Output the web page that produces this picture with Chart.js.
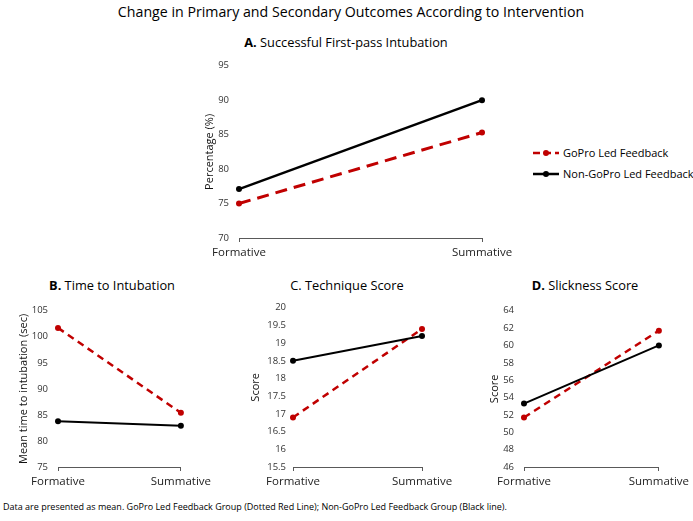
<!DOCTYPE html>
<html>
<head>
<meta charset="utf-8">
<script src="https://cdn.jsdelivr.net/npm/chart.js@4/dist/chart.umd.min.js"></script>
<style>
  html, body { margin: 0; padding: 0; background: #ffffff; }
  body { width: 693px; height: 521px; position: relative; overflow: hidden; font-family: "Open Sans", "Noto Sans", sans-serif; color: #000; }
  .abs { position: absolute; }
  canvas { position: absolute; }
  .title { position: absolute; white-space: nowrap; transform: translateX(-50%); }
  #mainTitle { left: 351px; top: 2px; font-size: 14.2px; }
  .ptitle { font-size: 12.8px; }
  #legend { left: 533px; top: 142px; font-size: 11px; }
  .lrow { height: 21px; display: flex; align-items: center; white-space: nowrap; }
  .lrow svg { margin-right: 4px; }
  #footer { left: 3px; top: 500px; font-size: 9px; white-space: nowrap; }
</style>
</head>
<body>
<div id="mainTitle" class="title">Change in Primary and Secondary Outcomes According to Intervention</div>
<div class="title ptitle" style="left:346px; top:33px;"><b>A.</b> Successful First-pass Intubation</div>
<div class="title ptitle" style="left:112px; top:276px;"><b>B.</b> Time to Intubation</div>
<div class="title ptitle" style="left:347px; top:276px;">C. Technique Score</div>
<div class="title ptitle" style="left:585px; top:276px;"><b>D.</b> Slickness Score</div>

<canvas id="cA" width="340" height="220" style="left:180px; top:50px;"></canvas>
<canvas id="cB" width="215" height="200" style="left:0px; top:295px;"></canvas>
<canvas id="cC" width="225" height="200" style="left:232px; top:295px;"></canvas>
<canvas id="cD" width="222" height="200" style="left:471px; top:295px;"></canvas>

<div id="legend" class="abs">
  <div class="lrow"><svg width="26" height="8"><line x1="0" y1="4" x2="26" y2="4" stroke="#C00000" stroke-width="2.5" stroke-dasharray="7,4"/><circle cx="13" cy="4" r="3" fill="#C00000"/></svg><span id="lg1"></span></div>
  <div class="lrow"><svg width="26" height="8"><line x1="0" y1="4" x2="26" y2="4" stroke="#000" stroke-width="2.5"/><circle cx="13" cy="4" r="3" fill="#000"/></svg><span id="lg2"></span></div>
</div>

<div id="footer" class="abs">Data are presented as mean. GoPro Led Feedback Group (Dotted Red Line); Non-GoPro Led Feedback Group (Black line).</div>

<script>
// ---- Data ----
const categories = ['Formative', 'Summative'];
const seriesNames = ['GoPro Led Feedback', 'Non-GoPro Led Feedback'];

// A. Successful First-pass Intubation (%)
const successGoPro = [75.0, 85.3];
const successNonGoPro = [77.1, 90.0];
// B. Time to Intubation (sec)
const timeGoPro = [101.7, 85.4];
const timeNonGoPro = [83.8, 82.9];
// C. Technique Score
const techniqueGoPro = [16.9, 19.4];
const techniqueNonGoPro = [18.5, 19.2];
// D. Slickness Score
const slicknessGoPro = [51.7, 61.7];
const slicknessNonGoPro = [53.3, 60.0];

// Y-axis ranges: [min, max, step]
const rangeA = [70, 95, 5];
const rangeB = [75, 105, 5];
const rangeC = [15.5, 20, 0.5];
const rangeD = [46, 64, 2];

const yTitles = ['Percentage (%)', 'Mean time to intubation (sec)', 'Score', 'Score'];

document.getElementById('lg1').textContent = seriesNames[0];
document.getElementById('lg2').textContent = seriesNames[1];

const FONT = '"Open Sans", "Noto Sans", sans-serif';
const RED = '#C00000';
const AXIS = '#595959';

function makeChart(id, red, black, range, yTitle, opts) {
  const ctx = document.getElementById(id);
  return new Chart(ctx, {
    type: 'line',
    data: {
      labels: categories,
      datasets: [
        {
          label: seriesNames[0], data: red,
          borderColor: RED, backgroundColor: RED,
          borderWidth: opts.redWidth, borderDash: opts.dash,
          pointRadius: 3, pointHoverRadius: 3, pointBorderWidth: 0,
          pointBackgroundColor: RED, tension: 0, clip: false, order: 2
        },
        {
          label: seriesNames[1], data: black,
          borderColor: '#000', backgroundColor: '#000',
          borderWidth: opts.blackWidth,
          pointRadius: 3, pointHoverRadius: 3, pointBorderWidth: 0,
          pointBackgroundColor: '#000', tension: 0, clip: false, order: 1
        }
      ]
    },
    options: {
      responsive: false,
      animation: false,
      events: [],
      layout: { padding: opts.padding },
      plugins: { legend: { display: false }, title: { display: false }, tooltip: { enabled: false } },
      scales: {
        x: {
          type: 'category',
          offset: false,
          grid: { display: true, drawOnChartArea: false, drawTicks: true, tickLength: 4, color: AXIS, lineWidth: 1 },
          border: { display: true, color: AXIS, width: 1 },
          ticks: { padding: 4, color: '#222', font: { family: FONT, size: 11.5 }, maxRotation: 0, autoSkip: false },
          afterFit: s => { s.height = opts.xHeight; }
        },
        y: {
          min: range[0], max: range[1],
          grid: { display: false, drawTicks: false },
          border: { display: false },
          ticks: { stepSize: range[2], padding: opts.tickPad, color: '#333', font: { family: FONT, size: 9.5 },
                   callback: v => String(Math.round(v * 100) / 100) },
          title: { display: true, text: yTitle, color: '#111', padding: 0, font: { family: FONT, size: 11 } },
          afterFit: s => { s.width = opts.yWidth; }
        }
      }
    }
  });
}

makeChart('cA', successGoPro, successNonGoPro, rangeA, yTitles[0],
  { padding: { left: 23, top: 11, right: 38, bottom: 0 }, yWidth: 36, xHeight: 32, tickPad: 10, dash: [12, 7], redWidth: 3, blackWidth: 2.5 });
makeChart('cB', timeGoPro, timeNonGoPro, rangeB, yTitles[1],
  { padding: { left: 17, top: 11, right: 32, bottom: 0 }, yWidth: 41, xHeight: 28, tickPad: 10, dash: [7, 5], redWidth: 2.5, blackWidth: 2 });
makeChart('cC', techniqueGoPro, techniqueNonGoPro, rangeC, yTitles[2],
  { padding: { left: 17, top: 11, right: 35, bottom: 0 }, yWidth: 44, xHeight: 28, tickPad: 7, dash: [7, 5], redWidth: 2.5, blackWidth: 2 });
makeChart('cD', slicknessGoPro, slicknessNonGoPro, rangeD, yTitles[3],
  { padding: { left: 17, top: 11, right: 33, bottom: 0 }, yWidth: 36, xHeight: 28, tickPad: 10, dash: [7, 5], redWidth: 2.5, blackWidth: 2 });
</script>
</body>
</html>
